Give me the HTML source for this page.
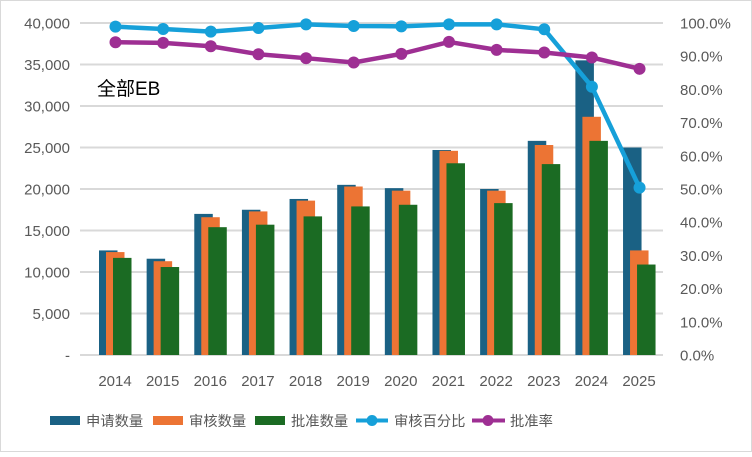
<!DOCTYPE html>
<html><head><meta charset="utf-8"><style>
html,body{margin:0;padding:0;background:#fff}
svg text{font-family:"Liberation Sans","Noto Sans CJK SC",sans-serif;fill:#595959}
</style></head><body>
<svg id="c" width="752" height="452" viewBox="0 0 752 452" xmlns="http://www.w3.org/2000/svg">
<rect x="0.5" y="0.5" width="751" height="451" fill="#fff" stroke="#d9d9d9"/>
<g id="grid"></g><g id="bars"></g><g id="lines"></g><g id="labels"></g>
<text x="97" y="95" font-size="19" style="fill:#000">全部EB</text>
<g font-size="14.3">
<rect x="50" y="416" width="30" height="9" fill="#1a6184"/><text x="86" y="426">申请数量</text>
<rect x="153" y="416" width="30" height="9" fill="#ec7434"/><text x="189" y="426">审核数量</text>
<rect x="255" y="416" width="30" height="9" fill="#1b6b23"/><text x="291" y="426">批准数量</text>
<line x1="356" y1="420.5" x2="388" y2="420.5" stroke="#16a0d9" stroke-width="4"/><circle cx="372" cy="420.5" r="5.5" fill="#16a0d9"/><text x="394" y="426">审核百分比</text>
<line x1="472" y1="420.5" x2="505" y2="420.5" stroke="#9e2f93" stroke-width="4"/><circle cx="488" cy="420.5" r="5.5" fill="#9e2f93"/><text x="510" y="426">批准率</text>
</g>
</svg>
<script>
const NS="http://www.w3.org/2000/svg";
function el(p,t,a,txt){const e=document.createElementNS(NS,t);for(const k in a)e.setAttribute(k,a[k]);if(txt!==undefined)e.textContent=txt;document.getElementById(p).appendChild(e);return e;}
const y0=355,H=332;
for(let i=0;i<=8;i++){const y=y0-i*H/8;
 el('grid','line',{x1:80,x2:663,y1:y,y2:y,stroke:'#d9d9d9','stroke-width':2});
 el('labels','text',{x:70,y:y+5.5,'text-anchor':'end','font-size':15},i==0?'-':(i*5000).toLocaleString('en-US'));}
for(let i=0;i<=10;i++){const y=y0-i*H/10;el('labels','text',{x:680,y:y+5.5,'font-size':15},(i*10).toFixed(1)+'%');}
const yrs=[2014,2015,2016,2017,2018,2019,2020,2021,2022,2023,2024,2025];
const A=[12600,11600,17000,17500,18800,20500,20100,24700,20000,25800,35500,25000];
const B=[12400,11300,16600,17300,18600,20300,19800,24600,19800,25300,28700,12600];
const C=[11700,10600,15400,15700,16700,17900,18100,23100,18300,23000,25800,10900];
const P1=[98.9,98.2,97.4,98.5,99.6,99.1,99.0,99.6,99.6,98.1,80.8,50.4];
const P2=[94.2,94.0,93.0,90.6,89.4,88.1,90.7,94.3,91.9,91.1,89.6,86.2];
const vy=v=>y0-v*H/40000, py=p=>y0-p*H/100;
const cols=['#1a6184','#ec7434','#1b6b23'];
yrs.forEach((yr,i)=>{const x=99+i*47.64;
 [A,B,C].forEach((d,j)=>{el('bars','rect',{x:x+j*7,y:vy(d[i]),width:18.5,height:y0-vy(d[i]),fill:cols[j]});});
 el('labels','text',{x:x+16,y:386,'text-anchor':'middle','font-size':15},yr);});
[[P1,'#16a0d9'],[P2,'#9e2f93']].forEach(([d,c])=>{
 const pts=d.map((p,i)=>[115.5+i*47.64,py(p)]);
 el('lines','polyline',{points:pts.map(p=>p.join(',')).join(' '),fill:'none',stroke:c,'stroke-width':4.5,'stroke-linejoin':'round'});
 pts.forEach(p=>el('lines','circle',{cx:p[0],cy:p[1],r:6,fill:c}));});
</script>
</body></html>
